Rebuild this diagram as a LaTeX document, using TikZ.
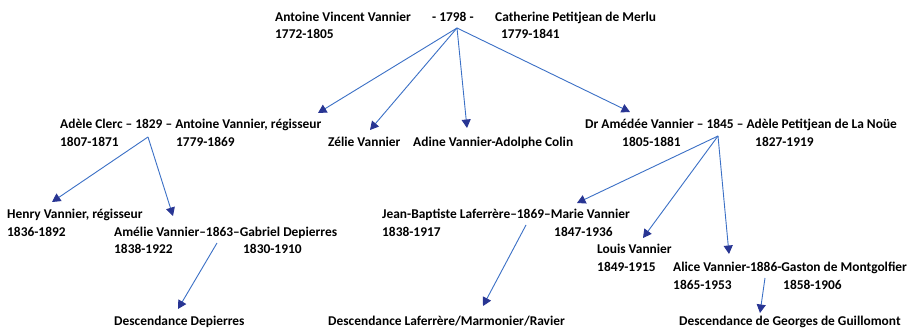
\documentclass[tikz,border=0pt]{standalone}
\usepackage{fontspec}
\setmainfont{Carlito}
\usetikzlibrary{arrows.meta}
\definecolor{lineblue}{HTML}{3B70C6}
\definecolor{tipblue}{HTML}{283593}
\begin{document}
\begin{tikzpicture}[x=1pt,y=-1pt,
  lbl/.style={anchor=base west,inner sep=0pt,font=\fontsize{13.4}{15}\selectfont\bfseries,text=black},
  link/.style={draw=lineblue,line width=0.9pt,-{Triangle[length=8.5pt,width=9pt,fill=tipblue,color=tipblue]}}]
\useasboundingbox[fill=white] (0,0) rectangle (913,332);
% row 1
\node[lbl] (avv) at (275,21) {Antoine Vincent Vannier};
\node[lbl] (y1798) at (432,21) {- 1798 -};
\node[lbl] (cpm) at (495,21) {Catherine Petitjean de Merlu};
\node[lbl] (avvd) at (275,38) {1772-1805};
\node[lbl] (cpmd) at (501,38) {1779-1841};
% row 2
\node[lbl] (acav) at (60,128.5) {Adèle Clerc – 1829 – Antoine Vannier, régisseur};
\node[lbl] (acd) at (60,146.5) {1807-1871};
\node[lbl] (avd) at (176,146.5) {1779-1869};
\node[lbl] (zelie) at (328,146.5) {Zélie Vannier};
\node[lbl] (adine) at (413,146.5) {Adine Vannier-Adolphe Colin};
\node[lbl] (amedee) at (585,128.5) {Dr Amédée Vannier – 1845 – Adèle Petitjean de La Noüe};
\node[lbl] (amd) at (622,146.5) {1805-1881};
\node[lbl] (apd) at (755,146.5) {1827-1919};
% row 3
\node[lbl] (henry) at (7,218.5) {Henry Vannier, régisseur};
\node[lbl] (henryd) at (7,236.5) {1836-1892};
\node[lbl] (amelie) at (114,236.5) {Amélie Vannier–1863–Gabriel Depierres};
\node[lbl] (amelied) at (114,253) {1838-1922};
\node[lbl] (gabd) at (243,253) {1830-1910};
\node[lbl] (jbl) at (382,218.5) {Jean-Baptiste Laferrère–1869–Marie Vannier};
\node[lbl] (jbld) at (382,236.5) {1838-1917};
\node[lbl] (mvd) at (554,236.5) {1847-1936};
\node[lbl] (louis) at (597,253) {Louis Vannier};
\node[lbl] (louisd) at (597,271) {1849-1915};
\node[lbl] (alice) at (673,271) {Alice Vannier-1886-Gaston de Montgolfier};
\node[lbl] (aliced) at (673,289.5) {1865-1953};
\node[lbl] (gastond) at (783,289.5) {1858-1906};
% row 4
\node[lbl] (ddep) at (114,325.5) {Descendance Depierres};
\node[lbl] (dlaf) at (328,325.5) {Descendance Laferrère/Marmonier/Ravier};
\node[lbl] (dgui) at (679,325.5) {Descendance de Georges de Guillomont};
% junction points and arrow tips
\coordinate (m1798) at (457,28);
\coordinate (m1829) at (148,137);
\coordinate (m1845) at (718,136);
\coordinate (m1863) at (217,243);
\coordinate (m1869) at (526,225);
\coordinate (m1886) at (765,278);
\coordinate (tAV) at (318,113);
\coordinate (tZ) at (370,130);
\coordinate (tAd) at (467,128);
\coordinate (tAm) at (630,112);
\coordinate (tH) at (52,202);
\coordinate (tAme) at (173,216);
\coordinate (tMV) at (577,203);
\coordinate (tL) at (643,238);
\coordinate (tAl) at (729,254);
\coordinate (tDD) at (178,309);
\coordinate (tDL) at (483,306);
\coordinate (tDG) at (760,313);
% connectors
\draw[link] (m1798) -- (tAV);
\draw[link] (m1798) -- (tZ);
\draw[link] (m1798) -- (tAd);
\draw[link] (m1798) -- (tAm);
\draw[link] (m1829) -- (tH);
\draw[link] (m1829) -- (tAme);
\draw[link] (m1845) -- (tMV);
\draw[link] (m1845) -- (tL);
\draw[link] (m1845) -- (tAl);
\draw[link] (m1863) -- (tDD);
\draw[link] (m1869) -- (tDL);
\draw[link] (m1886) -- (tDG);
\end{tikzpicture}
\end{document}
